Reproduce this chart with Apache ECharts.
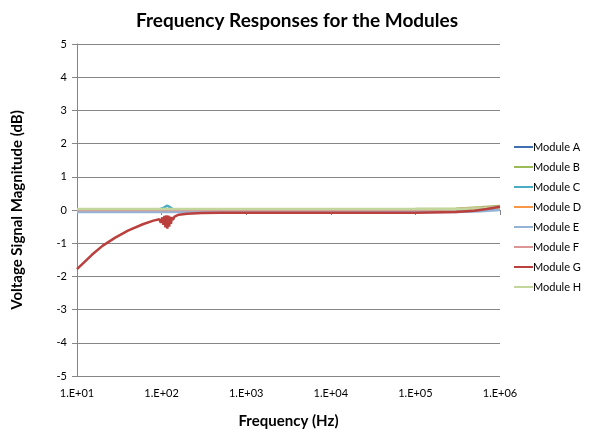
<!DOCTYPE html>
<html>
<head>
<meta charset="utf-8">
<script src="https://cdn.jsdelivr.net/npm/echarts@6/dist/echarts.min.js"></script>
<style>
  html, body { margin: 0; padding: 0; background: #ffffff; }
  #chart { width: 592px; height: 430px; }
</style>
</head>
<body>
<div id="chart"></div>
<script>
// shared frequency points (Hz) for the near-flat modules
const freqs = [10, 30, 90, 105, 115, 125, 140, 300, 1000, 10000, 100000, 300000, 600000, 1000000];
const modA = [-0.02, -0.02, -0.02, -0.02, -0.02, -0.02, -0.02, -0.02, -0.02, -0.02, -0.02, -0.02, 0.0, 0.04];
const modB = [0.02, 0.02, 0.02, 0.02, 0.02, 0.02, 0.02, 0.02, 0.02, 0.02, 0.03, 0.04, 0.08, 0.12];
const modC = [0.0, 0.0, 0.0, 0.06, 0.13, 0.09, 0.0, 0.0, 0.0, 0.0, 0.0, 0.0, 0.02, 0.05];
const modD = [0.01, 0.01, 0.01, 0.01, 0.01, 0.01, 0.01, 0.01, 0.01, 0.01, 0.01, 0.02, 0.05, 0.08];
const modE = [-0.06, -0.06, -0.06, -0.06, -0.06, -0.06, -0.06, -0.06, -0.06, -0.06, -0.06, -0.06, -0.04, 0.0];
const modF = [0.0, 0.0, 0.0, 0.0, 0.0, 0.0, 0.0, 0.0, 0.0, 0.0, 0.01, 0.02, 0.06, 0.1];
const modH = [0.03, 0.03, 0.03, 0.03, 0.03, 0.03, 0.03, 0.03, 0.03, 0.03, 0.03, 0.03, 0.05, 0.08];

// module G has its own sweep (roll-off + ripple near 100 Hz)
const freqsG = [10, 15, 20, 28, 40, 60, 80, 94, 98, 102, 105, 108, 111, 114, 117, 120, 123, 126, 129, 132, 136, 142, 160, 200, 300, 500, 1000, 10000, 100000, 300000, 500000, 700000, 1000000];
const modG = [-1.78, -1.35, -1.08, -0.84, -0.62, -0.43, -0.32, -0.28, -0.38, -0.22, -0.45, -0.18, -0.52, -0.16, -0.56, -0.17, -0.5, -0.2, -0.42, -0.22, -0.3, -0.2, -0.14, -0.11, -0.09, -0.08, -0.08, -0.08, -0.08, -0.06, -0.02, 0.03, 0.1];

const moduleNames = ["Module A", "Module B", "Module C", "Module D", "Module E", "Module F", "Module G", "Module H"];
const moduleColors = ["#3F6FB0", "#9BBB59", "#4BACC6", "#F79646", "#95B3D7", "#D99694", "#B9403D", "#C3D69B"];
const yTicks = [-5, -4, -3, -2, -1, 0, 1, 2, 3, 4, 5];

const font = "Lato, 'Open Sans', sans-serif";

const zip = (xs, ys) => xs.map((x, i) => [x, ys[i]]);
const seriesData = [
  zip(freqs, modA),
  zip(freqs, modB),
  zip(freqs, modC),
  zip(freqs, modD),
  zip(freqs, modE),
  zip(freqs, modF),
  zip(freqsG, modG),
  zip(freqs, modH)
];

const chart = echarts.init(document.getElementById("chart"), null, { renderer: "canvas" });

const option = {
  animation: false,
  textStyle: { fontFamily: font },
  title: {
    text: "Frequency Responses for the Modules",
    left: 292,
    textAlign: "center",
    top: 6,
    textStyle: { fontFamily: font, fontSize: 19, fontWeight: "bold", color: "#000000" },
  },
  legend: {
    orient: "vertical",
    left: 509,
    top: 135,
    itemGap: 6,
    itemWidth: 19,
    itemHeight: 14,
    icon: "path://M0,6 L19,6 L19,8 L0,8 Z",
    data: moduleNames,
    textStyle: { fontFamily: font, fontSize: 11, color: "#000000", padding: [0, 0, 0, -5], lineHeight: 14, height: 14 },
  },
  grid: {
    left: 77,
    right: 92,
    top: 44,
    bottom: 54,
    containLabel: false,
    outerBoundsMode: "none",
  },
  xAxis: {
    type: "log",
    logBase: 10,
    min: 10,
    max: 1000000,
    name: "Frequency (Hz)",
    nameLocation: "middle",
    nameGap: 38,
    nameTextStyle: { fontFamily: font, fontSize: 15, fontWeight: "bold", color: "#000000" },
    axisLine: { show: true, lineStyle: { color: "#868686", width: 1 } },
    axisTick: { show: true, inside: false, length: 5, lineStyle: { color: "#868686" } },
    splitLine: { show: false },
    minorTick: { show: false },
    axisLabel: {
      fontFamily: font,
      fontSize: 11,
      color: "#000000",
      margin: 12,
      formatter: (v) => {
        const e = Math.round(Math.log10(v));
        return "1.E+" + (e < 10 ? "0" + e : e);
      },
    },
  },
  yAxis: {
    type: "value",
    min: -5,
    max: 5,
    interval: 1,
    name: "Voltage Signal Magnitude (dB)",
    nameLocation: "middle",
    nameGap: 52,
    nameTextStyle: { fontFamily: font, fontSize: 15, fontWeight: "bold", color: "#000000" },
    axisLine: { show: true, lineStyle: { color: "#868686", width: 1 } },
    axisTick: { show: true, inside: false, length: 5, lineStyle: { color: "#868686" } },
    splitLine: { show: true, lineStyle: { color: "#868686", width: 1 } },
    axisLabel: {
      fontFamily: font,
      fontSize: 11,
      color: "#000000",
      margin: 10,
      formatter: (v) => (yTicks.includes(v) ? String(v) : ""),
    },
  },
  series: moduleNames.map((name, i) => ({
    name,
    type: "line",
    data: seriesData[i],
    showSymbol: false,
    symbol: "none",
    smooth: false,
    color: moduleColors[i],
    lineStyle: { width: 2.5, color: moduleColors[i] },
    z: i === 6 ? 3 : 2,
  })),
};

chart.setOption(option);
</script>
</body>
</html>
